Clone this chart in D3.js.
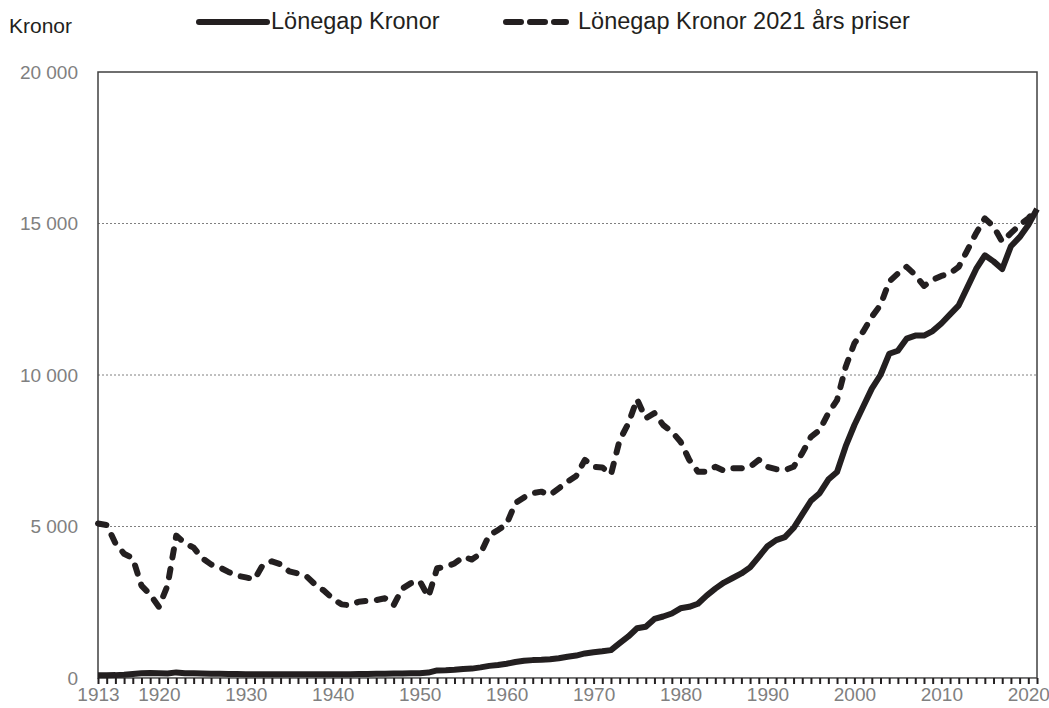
<!DOCTYPE html>
<html>
<head>
<meta charset="utf-8">
<script src="https://cdn.jsdelivr.net/npm/d3@7"></script>
<style>
  body { margin: 0; background: #fff; }
  svg { display: block; font-family: "Liberation Sans", Arial, sans-serif; }
</style>
</head>
<body>
<div id="chart"></div>
<script>
const years = d3.range(1913, 2022);
const labelYears = [1913, 1920, 1930, 1940, 1950, 1960, 1970, 1980, 1990, 2000, 2010, 2020];
const yTicks = [0, 5000, 10000, 15000, 20000];
const gridTicks = [5000, 10000, 15000];

const seriesNames = ["Lönegap Kronor", "Lönegap Kronor 2021 års priser"];

// nominal kronor, 1913-2021
const lonegapKronor = [
  90, 90, 95, 110, 135, 160, 165, 160, 150, 185,
  160, 155, 145, 140, 140, 135, 130, 125, 120, 120,
  125, 125, 120, 120, 120, 120, 120, 120, 125, 125,
  130, 135, 140, 140, 145, 150, 155, 160, 180, 250,
  255, 270, 300, 310, 350, 400, 430, 470, 530, 570,
  590, 600, 620, 650, 700, 740, 810, 850, 880, 920,
  1150, 1370, 1640, 1690, 1950, 2030, 2130, 2300, 2350, 2450,
  2720, 2950, 3150, 3300, 3450, 3650, 4000, 4350, 4550, 4650,
  4950, 5400, 5850, 6100, 6550, 6800, 7650, 8350, 8950, 9550,
  10000, 10700, 10800, 11200, 11300, 11300, 11450, 11700, 12000, 12300,
  12900, 13500, 13950, 13750, 13500, 14250, 14550, 14950, 15480
];

// 2021 prices, 1913-2021
const lonegapFast = [
  5100, 5050, 4450, 4100, 3950, 3050, 2750, 2350, 3050, 4700,
  4450, 4300, 3950, 3750, 3650, 3500, 3380, 3320, 3260, 3750,
  3850, 3750, 3520, 3450, 3350, 3080, 2880, 2620, 2430, 2400,
  2520, 2550, 2570, 2630, 2400, 2950, 3130, 3200, 2680, 3620,
  3670, 3780, 4000, 3910, 4110, 4720, 4880, 5080, 5770, 5960,
  6100, 6150, 6040, 6260, 6480, 6670, 7200, 6970, 6950, 6720,
  7850, 8400, 9200, 8570, 8740, 8350, 8130, 7800, 7200, 6810,
  6810, 6970, 6840, 6920, 6920, 6970, 7200, 6970, 6890, 6860,
  6970, 7420, 7960, 8180, 8740, 9170, 10270, 11050, 11430, 11920,
  12310, 13080, 13350, 13570, 13300, 12940, 13140, 13270, 13350, 13570,
  14120, 14680, 15170, 14900, 14400, 14680, 14950, 15170, 15480
];

const W = 1049, H = 708;
const margin = { top: 72, right: 12, bottom: 30, left: 98 };
const width = W - margin.left - margin.right;
const height = H - margin.top - margin.bottom;
const ink = "#231f20";
const grey = "#808080";

const svg = d3.select("#chart").append("svg")
  .attr("width", W)
  .attr("height", H);

const x = d3.scaleLinear().domain([1913, 2021]).range([0, width]);
const y = d3.scaleLinear().domain([0, 20000]).range([height, 0]);

const fmt = d3.formatLocale({ decimal: ",", thousands: " ", grouping: [3], currency: ["", ""] }).format(",d");

const g = svg.append("g")
  .attr("transform", "translate(" + margin.left + "," + margin.top + ")");

// dotted grid
g.selectAll(".grid")
  .data(gridTicks)
  .enter().append("line")
    .attr("class", "grid")
    .attr("x1", 0)
    .attr("x2", width)
    .attr("y1", d => y(d))
    .attr("y2", d => y(d))
    .attr("stroke", grey)
    .attr("stroke-width", 1)
    .attr("stroke-dasharray", "2,2");

// plot box
g.append("rect")
  .attr("x", 0)
  .attr("y", 0)
  .attr("width", width)
  .attr("height", height)
  .attr("fill", "none")
  .attr("stroke", "#404040")
  .attr("stroke-width", 1.5);

// y labels
const yAxis = d3.axisLeft(y).tickValues(yTicks).tickFormat(fmt).tickSize(0).tickPadding(20);
g.append("g")
  .attr("class", "y axis")
  .call(yAxis)
  .call(a => a.select(".domain").remove())
  .call(a => a.selectAll("text")
    .attr("fill", grey)
    .style("font-size", "19px")
    .style("font-family", "Liberation Sans, Arial, sans-serif"));

// x axis, a tick every year
const xAxis = d3.axisBottom(x)
  .tickValues(years)
  .tickFormat(d => labelYears.includes(d) ? d : "")
  .tickSizeInner(6)
  .tickSizeOuter(0)
  .tickPadding(4);

g.append("g")
  .attr("class", "x axis")
  .attr("transform", "translate(0," + height + ")")
  .call(xAxis)
  .call(a => a.select(".domain").attr("stroke", grey).attr("stroke-width", 1))
  .call(a => a.selectAll(".tick line").attr("stroke", ink).attr("stroke-width", 2))
  .call(a => a.selectAll("text")
    .attr("fill", grey)
    .style("font-size", "19px")
    .style("font-family", "Liberation Sans, Arial, sans-serif"));

const line = d3.line()
  .x((d, i) => x(years[i]))
  .y(d => y(d));

g.append("path")
  .datum(lonegapFast)
  .attr("fill", "none")
  .attr("stroke", ink)
  .attr("stroke-width", 6)
  .attr("stroke-linecap", "round")
  .attr("stroke-linejoin", "round")
  .attr("stroke-dasharray", "8.5,11.5")
  .attr("d", line);

g.append("path")
  .datum(lonegapKronor)
  .attr("fill", "none")
  .attr("stroke", ink)
  .attr("stroke-width", 6)
  .attr("stroke-linejoin", "round")
  .attr("d", line);

// unit label + legend
svg.append("text")
  .attr("x", 9)
  .attr("y", 33)
  .attr("fill", ink)
  .style("font-size", "21px")
  .text("Kronor");

const legend = svg.append("g").attr("class", "legend");

legend.append("line")
  .attr("x1", 199).attr("x2", 267)
  .attr("y1", 22).attr("y2", 22)
  .attr("stroke", ink)
  .attr("stroke-width", 6)
  .attr("stroke-linecap", "round");

legend.append("text")
  .attr("x", 271)
  .attr("y", 29)
  .attr("fill", ink)
  .style("font-size", "23.5px")
  .text(seriesNames[0]);

legend.append("line")
  .attr("x1", 506).attr("x2", 566)
  .attr("y1", 22).attr("y2", 22)
  .attr("stroke", ink)
  .attr("stroke-width", 6)
  .attr("stroke-linecap", "round")
  .attr("stroke-dasharray", "15,9");

legend.append("text")
  .attr("x", 578)
  .attr("y", 29)
  .attr("fill", ink)
  .style("font-size", "23.5px")
  .text(seriesNames[1]);
</script>
</body>
</html>
